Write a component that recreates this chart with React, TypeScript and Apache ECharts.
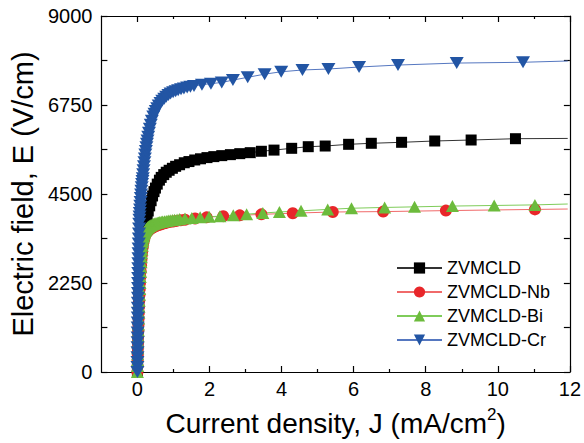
import React, { useEffect, useRef } from "react";
import * as echarts from "echarts";

const seriesNames = ["ZVMCLD", "ZVMCLD-Nb", "ZVMCLD-Bi", "ZVMCLD-Cr"];

const xMajorTicks = [0, 2, 4, 6, 8, 10, 12];
const xMinorTicks = [1, 3, 5, 7, 9, 11];

const blackJ = [0, 0.005, 0.01, 0.015, 0.02, 0.025, 0.03, 0.035, 0.04, 0.05, 0.06, 0.075, 0.09, 0.11, 0.14, 0.17, 0.2, 0.235, 0.27, 0.3, 0.34, 0.38, 0.42, 0.46, 0.5, 0.55, 0.61, 0.66, 0.73, 0.8, 0.88, 0.97, 1.06, 1.17, 1.3, 1.43, 1.59, 1.75, 1.93, 2.12, 2.34, 2.58, 2.84, 3.13, 3.44, 3.79, 4.28, 4.74, 5.21, 5.86, 6.49, 7.33, 8.25, 9.26, 10.49];
const blackE = [0, 250, 500, 750, 1000, 1250, 1500, 1750, 2000, 2250, 2500, 2750, 3000, 3200, 3400, 3560, 3700, 3830, 3950, 4070, 4200, 4330, 4450, 4560, 4650, 4750, 4850, 4920, 4990, 5050, 5100, 5150, 5200, 5240, 5290, 5320, 5360, 5390, 5420, 5445, 5470, 5495, 5520, 5545, 5580, 5610, 5655, 5696, 5713, 5756, 5782, 5807, 5840, 5865, 5898];
const blackEnd = [11.94, 5905];

const redJ = [0, 0.003, 0.005, 0.008, 0.01, 0.015, 0.02, 0.025, 0.03, 0.035, 0.04, 0.045, 0.05, 0.058, 0.065, 0.072, 0.08, 0.09, 0.1, 0.11, 0.12, 0.132, 0.145, 0.157, 0.17, 0.185, 0.2, 0.225, 0.25, 0.295, 0.34, 0.39, 0.44, 0.5, 0.57, 0.64, 0.72, 0.8, 0.89, 0.99, 1.09, 1.2, 1.32, 1.6, 1.92, 2.38, 2.84, 3.44, 4.31, 5.42, 6.82, 8.56, 11.03];
const redE = [0, 150, 300, 450, 600, 750, 900, 1050, 1200, 1350, 1500, 1650, 1800, 1950, 2100, 2250, 2400, 2550, 2700, 2830, 2950, 3050, 3150, 3230, 3300, 3360, 3420, 3470, 3520, 3560, 3600, 3630, 3660, 3685, 3710, 3730, 3750, 3770, 3790, 3805, 3820, 3835, 3850, 3880, 3910, 3940, 3960, 3985, 4015, 4045, 4055, 4080, 4110];
const redEnd = [11.94, 4120];

const greenJ = [0, 0.003, 0.005, 0.008, 0.01, 0.015, 0.02, 0.025, 0.03, 0.035, 0.04, 0.045, 0.05, 0.058, 0.065, 0.072, 0.08, 0.087, 0.095, 0.102, 0.11, 0.118, 0.125, 0.133, 0.14, 0.15, 0.16, 0.17, 0.18, 0.19, 0.2, 0.215, 0.23, 0.245, 0.26, 0.275, 0.29, 0.31, 0.33, 0.35, 0.37, 0.4, 0.43, 0.455, 0.48, 0.515, 0.55, 0.585, 0.62, 0.66, 0.7, 0.75, 0.8, 0.855, 0.91, 0.97, 1.03, 1.1, 1.17, 1.32, 1.51, 1.74, 1.99, 2.29, 2.66, 3.03, 3.48, 3.94, 4.54, 5.28, 5.94, 6.86, 7.69, 8.74, 9.9, 11.03];
const greenE = [0, 150, 300, 450, 600, 750, 900, 1050, 1200, 1350, 1500, 1650, 1800, 1950, 2100, 2250, 2400, 2525, 2650, 2775, 2900, 3000, 3100, 3190, 3280, 3340, 3400, 3440, 3480, 3510, 3540, 3565, 3590, 3610, 3630, 3645, 3660, 3675, 3690, 3700, 3710, 3722, 3735, 3745, 3755, 3765, 3775, 3782, 3790, 3797, 3805, 3812, 3820, 3827, 3835, 3842, 3850, 3857, 3865, 3880, 3895, 3910, 3925, 3940, 3965, 3990, 4020, 4045, 4075, 4110, 4140, 4160, 4175, 4195, 4210, 4225];
const greenEnd = [11.94, 4247];

const blueJ = [0, 0, 0.001, 0.002, 0.003, 0.004, 0.005, 0.006, 0.007, 0.008, 0.009, 0.01, 0.011, 0.012, 0.0135, 0.015, 0.0165, 0.018, 0.0195, 0.021, 0.023, 0.025, 0.027, 0.029, 0.031, 0.034, 0.037, 0.04, 0.043, 0.046, 0.05, 0.055, 0.06, 0.066, 0.073, 0.08, 0.087, 0.095, 0.102, 0.11, 0.12, 0.13, 0.14, 0.15, 0.16, 0.17, 0.182, 0.195, 0.207, 0.22, 0.235, 0.25, 0.265, 0.28, 0.3, 0.32, 0.345, 0.37, 0.4, 0.44, 0.475, 0.51, 0.55, 0.59, 0.64, 0.69, 0.745, 0.8, 0.86, 0.92, 0.99, 1.06, 1.13, 1.21, 1.29, 1.38, 1.47, 1.57, 1.79, 2.04, 2.34, 2.65, 3.06, 3.53, 3.99, 4.58, 5.3, 6.15, 7.23, 8.86, 10.7];
const blueE = [0, 125, 250, 375, 500, 625, 750, 875, 1000, 1125, 1250, 1375, 1500, 1625, 1750, 1875, 2000, 2125, 2250, 2375, 2500, 2625, 2750, 2875, 3000, 3125, 3250, 3375, 3500, 3625, 3750, 3850, 3930, 4020, 4110, 4200, 4300, 4400, 4490, 4580, 4670, 4750, 4830, 4900, 5000, 5100, 5200, 5300, 5400, 5500, 5590, 5680, 5770, 5850, 5950, 6050, 6150, 6250, 6350, 6460, 6530, 6600, 6670, 6740, 6800, 6860, 6910, 6960, 7000, 7040, 7070, 7100, 7125, 7150, 7170, 7190, 7210, 7230, 7265, 7290, 7320, 7380, 7450, 7530, 7590, 7635, 7660, 7710, 7760, 7810, 7830];
const blueEnd = [11.94, 7862];

const FONT = "'Liberation Sans', Arial, Helvetica, sans-serif";

function build(J: number[], E: number[], end: number[]) {
  const d: any[] = J.map((j, i) => [j, E[i]]);
  d.push({ value: end, symbol: "none" });
  return d;
}

export default function App() {
  const ref = useRef<HTMLDivElement>(null);
  useEffect(() => {
    if (!ref.current) return;
    const chart = echarts.init(ref.current, undefined, { renderer: "svg" });
    const axisLineStyle = { color: "#000", width: 1.2 };
    const xCommon = {
      type: "value" as const,
      min: -1,
      max: 12,
      interval: 1,
      gridIndex: 0,
      splitLine: { show: false },
    };
    const yCommon = {
      type: "value" as const,
      min: 0,
      max: 9000,
      interval: 1125,
      splitLine: { show: false },
    };
    chart.setOption({
      animation: false,
      backgroundColor: "#ffffff",
      grid: { left: 100, right: 12, top: 16, bottom: 71, containLabel: false },
      xAxis: [
        {
          ...xCommon,
          position: "bottom",
          name: "Current density, J (mA/cm{sup|2})",
          nameLocation: "middle",
          nameGap: 34,
          nameTextStyle: {
            fontFamily: FONT,
            fontSize: 28,
            color: "#000",
            rich: { sup: { fontFamily: FONT, fontSize: 17, color: "#000", verticalAlign: "top", lineHeight: 34 } },
          },
          axisLine: { show: true, onZero: false, lineStyle: axisLineStyle },
          axisTick: { show: true, inside: true, length: 6, customValues: xMajorTicks, lineStyle: axisLineStyle },
          axisLabel: { show: true, customValues: xMajorTicks, fontFamily: FONT, fontSize: 20, color: "#000", margin: 7 },
        },
        {
          ...xCommon,
          position: "bottom",
          axisLine: { show: false, onZero: false },
          axisTick: { show: true, inside: true, length: 3, customValues: xMinorTicks, lineStyle: axisLineStyle },
          axisLabel: { show: false },
        },
        {
          ...xCommon,
          position: "top",
          axisLine: { show: true, onZero: false, lineStyle: axisLineStyle },
          axisTick: { show: true, inside: true, length: 6, customValues: xMajorTicks, lineStyle: axisLineStyle },
          axisLabel: { show: false },
        },
        {
          ...xCommon,
          position: "top",
          axisLine: { show: false, onZero: false },
          axisTick: { show: true, inside: true, length: 3, customValues: xMinorTicks, lineStyle: axisLineStyle },
          axisLabel: { show: false },
        },
      ],
      yAxis: [
        {
          ...yCommon,
          position: "left",
          name: "Electric field, E (V/cm)",
          nameLocation: "middle",
          nameGap: 60,
          nameTextStyle: { fontFamily: FONT, fontSize: 29, color: "#000" },
          axisLine: { show: true, onZero: false, lineStyle: axisLineStyle },
          axisTick: { show: true, inside: true, length: 6, lineStyle: axisLineStyle },
          axisLabel: {
            fontFamily: FONT,
            fontSize: 20,
            color: "#000",
            margin: 9,
            formatter: (v: number) => (v % 2250 === 0 ? String(v) : ""),
          },
        },
        {
          ...yCommon,
          position: "right",
          axisLine: { show: true, onZero: false, lineStyle: axisLineStyle },
          axisTick: { show: true, inside: true, length: 6, lineStyle: axisLineStyle },
          axisLabel: { show: false },
        },
      ],
      legend: {
        orient: "vertical",
        left: 396,
        top: 259,
        padding: 0,
        itemWidth: 45,
        itemHeight: 14,
        itemGap: 6,
        data: seriesNames,
        textStyle: { fontFamily: FONT, fontSize: 18, color: "#000", padding: [0, 0, 0, 0] },
      },
      series: [
        {
          name: seriesNames[0],
          type: "line",
          data: build(blackJ, blackE, blackEnd),
          symbol: "rect",
          symbolSize: 11,
          showAllSymbol: true,
          itemStyle: { color: "#000000" },
          lineStyle: { color: "#333333", width: 1 },
        },
        {
          name: seriesNames[1],
          type: "line",
          data: build(redJ, redE, redEnd),
          symbol: "circle",
          symbolSize: 12,
          showAllSymbol: true,
          itemStyle: { color: "#e8262a" },
          lineStyle: { color: "#f06a6a", width: 1 },
        },
        {
          name: seriesNames[2],
          type: "line",
          data: build(greenJ, greenE, greenEnd),
          symbol: "triangle",
          symbolSize: [13, 12],
          showAllSymbol: true,
          itemStyle: { color: "#6cbb3c" },
          lineStyle: { color: "#7fcc5a", width: 1 },
        },
        {
          name: seriesNames[3],
          type: "line",
          data: build(blueJ, blueE, blueEnd),
          symbol: "triangle",
          symbolRotate: 180,
          symbolSize: [14, 12],
          showAllSymbol: true,
          itemStyle: { color: "#2255a4" },
          lineStyle: { color: "#5577c0", width: 1 },
        },
      ],
    });
    return () => chart.dispose();
  }, []);
  return (
    <div
      ref={ref}
      style={{ position: "fixed", left: 0, top: 0, width: 584, height: 443, background: "#fff" }}
    />
  );
}
